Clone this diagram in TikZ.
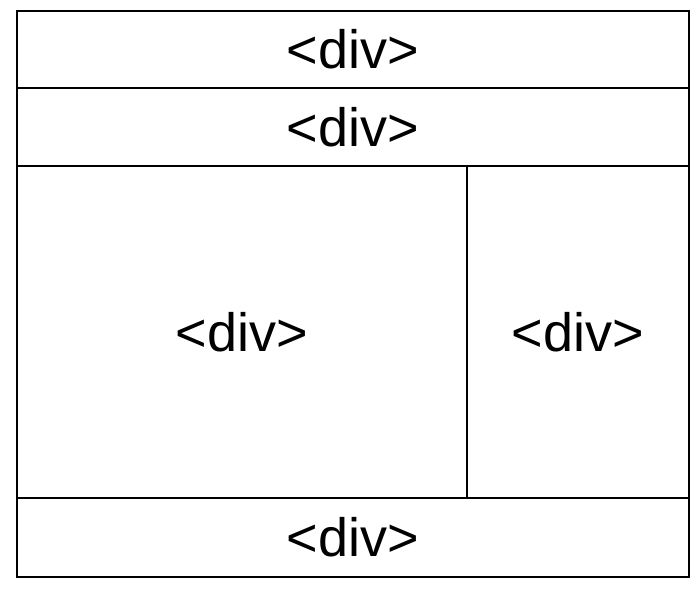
\documentclass[tikz,border=0pt]{standalone}
\usepackage{fontspec}
\setmainfont{Liberation Sans}
\begin{document}
\begin{tikzpicture}[x=1pt,y=-1pt,line width=2.7pt,
    divlabel/.style={font=\fontsize{54}{60}\selectfont,inner sep=0pt}]
    \useasboundingbox (0,0) rectangle (700,590);

    \coordinate (top) at (0,11);
    \coordinate (headerBoundary) at (0,88);
    \coordinate (navBoundary) at (0,166);
    \coordinate (footerBoundary) at (0,498);
    \coordinate (bottom) at (0,577);

    \coordinate (left) at (17,0);
    \coordinate (sideBoundary) at (467,0);
    \coordinate (right) at (689,0);

    \draw (top -| left) rectangle (bottom -| right);
    \draw (headerBoundary -| left) -- (headerBoundary -| right);
    \draw (navBoundary -| left) -- (navBoundary -| right);
    \draw (footerBoundary -| left) -- (footerBoundary -| right);
    \draw (navBoundary -| sideBoundary) -- (footerBoundary -| sideBoundary);

    \path (top -| left) rectangle (headerBoundary -| right) coordinate[pos=0.5] (Header);
    \path (headerBoundary -| left) rectangle (navBoundary -| right) coordinate[pos=0.5] (Nav);
    \path (navBoundary -| left) rectangle (footerBoundary -| sideBoundary) coordinate[pos=0.5] (Main);
    \path (navBoundary -| sideBoundary) rectangle (footerBoundary -| right) coordinate[pos=0.5] (Side);
    \path (footerBoundary -| left) rectangle (bottom -| right) coordinate[pos=0.5] (Footer);

    \node[divlabel] (headerText) at (Header) {<div>};
    \node[divlabel] (navText) at (Nav) {<div>};
    \node[divlabel] (mainText) at (Main) {<div>};
    \node[divlabel] (sideText) at (Side) {<div>};
    \node[divlabel] (footerText) at (Footer) {<div>};

\end{tikzpicture}
\end{document}
